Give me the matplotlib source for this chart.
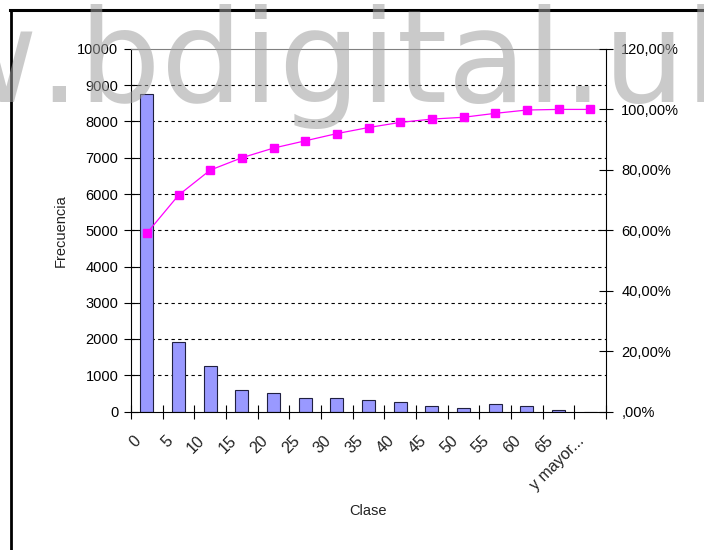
import matplotlib.pyplot as plt
from matplotlib.lines import Line2D

# datos (histograma de Excel con % acumulado)
clases = ['0', '5', '10', '15', '20', '25', '30', '35', '40', '45', '50',
          '55', '60', '65', 'y mayor...']
frecuencia = [8760, 1920, 1260, 600, 505, 370, 370, 305, 265, 165, 90,
              200, 155, 28, 0]
acumulado = [59.0, 71.6, 79.9, 84.0, 87.2, 89.6, 92.0, 94.0, 95.7, 96.8,
             97.4, 98.7, 99.8, 100.0, 100.0]
frec_ticks = [0, 1000, 2000, 3000, 4000, 5000, 6000, 7000, 8000, 9000, 10000]
pct_ticks = [0, 20, 40, 60, 80, 100, 120]
pct_labels = [',00%', '20,00%', '40,00%', '60,00%', '80,00%', '100,00%', '120,00%']

plt.rcParams['font.family'] = ['Liberation Sans', 'DejaVu Sans']

W, H = 704, 550
fig = plt.figure(figsize=(W / 100, H / 100), dpi=100)
ax = fig.add_axes([131 / W, 1 - 411.5 / H, (606 - 131) / W, (411.5 - 49) / H])

n = len(clases)
x = list(range(n))
ax.bar(x, frecuencia, width=0.42, color='#9999ff', edgecolor='#202040',
       linewidth=0.8, zorder=2)
ax.set_xlim(-0.5, n - 0.5)
ax.set_ylim(frec_ticks[0], frec_ticks[-1])
ax.set_yticks(frec_ticks)
ax.hlines(frec_ticks[1:-1], -0.5, n - 0.5, colors='black',
          linestyles=(0, (3, 3)), linewidth=0.8, zorder=1)

# ticks del eje x entre categorias, etiquetas aparte
ax.set_xticks([i - 0.5 for i in range(n + 1)])
ax.set_xticklabels([])
ax.tick_params(axis='both', direction='inout', length=10, width=0.8,
               labelsize=10.5, colors='black')
ax.tick_params(axis='y', pad=4)
for i, lab in enumerate(clases):
    ax.annotate(lab, xy=(i, 0), xycoords=('data', 'axes fraction'),
                xytext=(-8, -27), textcoords='offset pixels', rotation=45,
                rotation_mode='anchor', ha='right', va='center', fontsize=11.5,
                color='#222222')

for s in ['left', 'bottom']:
    ax.spines[s].set_linewidth(0.8)
ax.spines['top'].set_color('#808080')
ax.spines['top'].set_linewidth(0.8)
ax.spines['right'].set_visible(False)

ax2 = ax.twinx()
ax2.plot(x, acumulado, color='#ff00ff', linewidth=0.9, marker='s',
         markersize=6, markeredgecolor='#ff00ff', zorder=3)
ax2.set_ylim(pct_ticks[0], pct_ticks[-1])
ax2.set_yticks(pct_ticks)
ax2.set_yticklabels(pct_labels)
ax2.tick_params(axis='y', direction='inout', length=10, width=0.8,
                labelsize=10.5, pad=6)
for s in ['top', 'left', 'bottom']:
    ax2.spines[s].set_visible(False)
ax2.spines['right'].set_linewidth(0.8)

ax.text(-70 / 475, 0.5, 'Frecuencia', transform=ax.transAxes, rotation=90,
        ha='center', va='center', fontsize=10.5, color='#222222')
ax.text(0.5, -(511 - 411.5) / 362.5, 'Clase', transform=ax.transAxes,
        ha='center', va='center', fontsize=10.5, color='#222222')

# marco recortado del grafico
fig.add_artist(Line2D([10 / W, 1], [1 - 9.5 / H, 1 - 9.5 / H], color='black', lw=2.2))
fig.add_artist(Line2D([11 / W, 11 / W], [0, 1 - 9.5 / H], color='black', lw=2))

# marca de agua
wm_y = 1 - 102 / H
wm_font = dict(fontsize=93, family='DejaVu Sans', color='#a0a0a0', alpha=0.55,
               va='baseline', zorder=10)
fig.text(38 / W, wm_y, '.bdigital.ula.ve', ha='left', **wm_font)
fig.text(38 / W, wm_y, 'www', ha='right', **wm_font)

fig.savefig('out.png', dpi=100)
